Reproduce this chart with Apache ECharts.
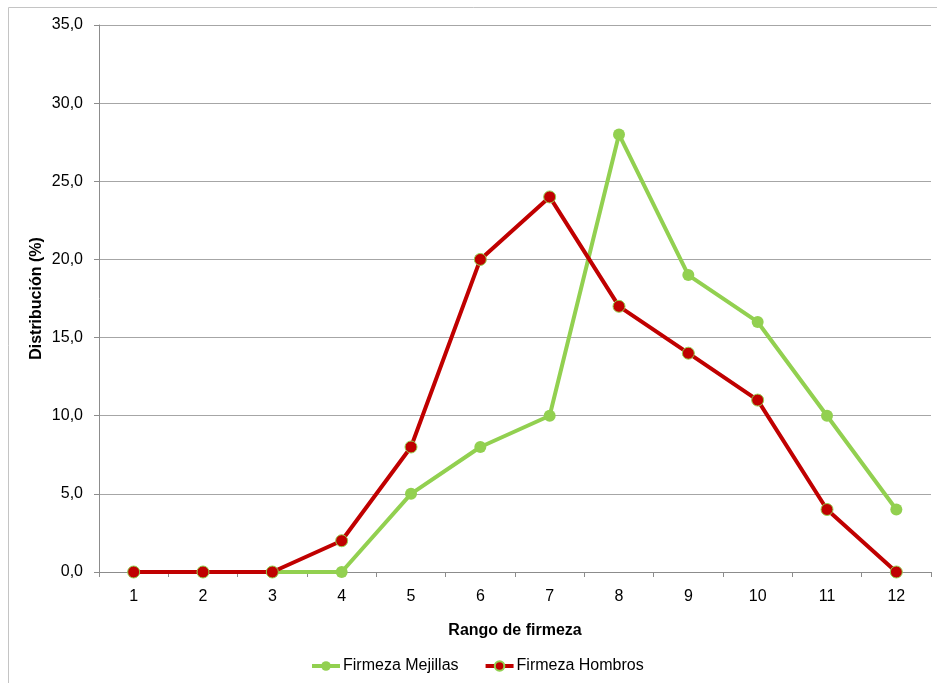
<!DOCTYPE html>
<html><head><meta charset="utf-8">
<script src="https://cdn.jsdelivr.net/npm/echarts@6/dist/echarts.min.js"></script>
<style>html,body{margin:0;padding:0;background:#fff}#c{width:937px;height:683px}</style>
</head><body><div id="c"></div>
<script>
const categories = ['1','2','3','4','5','6','7','8','9','10','11','12'];
const mejillas = [0,0,0,0,5,8,10,28,19,16,10,4];
const hombros = [0,0,0,2,8,20,24,17,14,11,4,0];
const seriesNames = ['Firmeza Mejillas','Firmeza Hombros'];
const xName = 'Rango de firmeza';
const yName = 'Distribución (%)';

const chart = echarts.init(document.getElementById('c'));
const font = '"Liberation Sans Narrow", "Arial Narrow", "Liberation Sans", sans-serif';
chart.setOption({
  animation: false,
  textStyle: {fontFamily: font},
  graphic: [{type:'rect', shape:{x:8.5,y:7.5,width:950,height:700}, style:{fill:'none', stroke:'#c4c4c4', lineWidth:1}, silent:true}],
  grid: {left: 99, right: 6, top: 25, bottom: 111},
  legend: {
    bottom: 4, left: 305, itemWidth: 28, itemHeight: 12, itemGap: 25,
    lineStyle: {width: 4},
    textStyle: {fontFamily: font, fontSize: 16, color: '#000', padding: [0, 0, 0, -2]},
    data: seriesNames
  },
  xAxis: {
    type: 'category', data: categories, boundaryGap: true,
    name: xName, nameLocation: 'middle', nameGap: 51, nameMoveOverlap: false,
    nameTextStyle: {fontFamily: font, fontSize: 16, fontWeight: 'bold', color: '#000'},
    axisLine: {lineStyle: {color: '#8c8c8c', width: 1}},
    axisTick: {show: true, length: 5, lineStyle: {color: '#8c8c8c'}},
    axisLabel: {fontFamily: font, fontSize: 16, color: '#000', margin: 17}
  },
  yAxis: {
    type: 'value', min: 0, max: 35, interval: 5,
    name: yName, nameLocation: 'middle', nameGap: 54, nameRotate: 90, nameMoveOverlap: false,
    nameTextStyle: {fontFamily: font, fontSize: 16, fontWeight: 'bold', color: '#000'},
    axisLine: {show: true, lineStyle: {color: '#8c8c8c', width: 1}},
    axisTick: {show: true, length: 5, lineStyle: {color: '#8c8c8c'}},
    splitLine: {show: true, lineStyle: {color: '#a6a6a6', width: 1}},
    axisLabel: {fontFamily: font, fontSize: 16, color: '#000', margin: 16,
      formatter: v => v.toFixed(1).replace('.', ',')}
  },
  series: [
    {name: seriesNames[0], type: 'line', data: mejillas, symbol: 'circle', symbolSize: 12,
     lineStyle: {color: '#92D050', width: 4}, itemStyle: {color: '#92D050'}, z: 2},
    {name: seriesNames[1], type: 'line', data: hombros, symbol: 'circle', symbolSize: 12,
     lineStyle: {color: '#C00000', width: 4}, itemStyle: {color: '#C00000', borderColor: '#92D050', borderWidth: 1}, z: 3}
  ]
});
</script></body></html>
